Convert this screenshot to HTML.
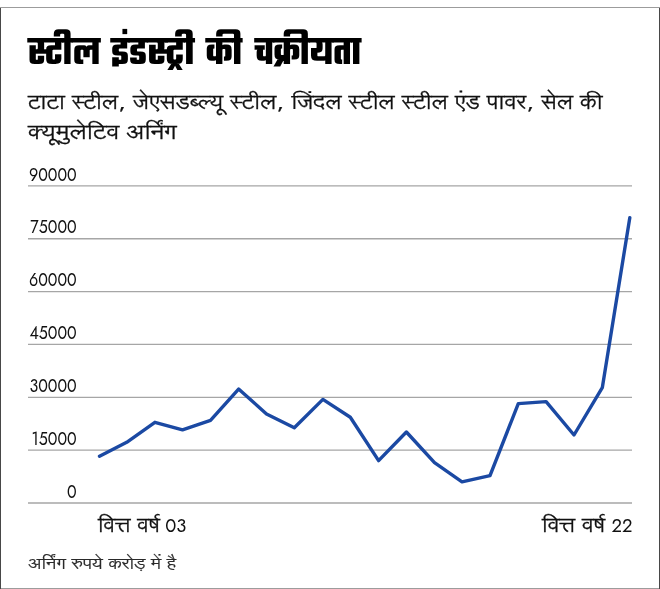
<!DOCTYPE html>
<html lang="hi">
<head>
<meta charset="utf-8">
<title>स्टील इंडस्ट्री की चक्रीयता</title>
<style>
html,body{margin:0;padding:0;background:#fff;}
body{width:660px;height:589px;position:relative;overflow:hidden;color:#1a1a1a;}
.frame{position:absolute;left:0;top:7px;width:660px;height:580px;border-top:1px solid #9c9c9c;border-bottom:1px solid #9c9c9c;}
.frame:before,.frame:after{content:"";position:absolute;top:0;height:581px;width:1px;background:#484848;}
.frame:before{left:0;}
.frame:after{right:0;}
.t{position:absolute;white-space:nowrap;margin:0;padding:0;}
.title{left:0;top:24.1px;width:400px;height:60px;font-family:"Teko","Khand","Noto Sans Devanagari","Lohit Devanagari","FreeSans","Liberation Sans",sans-serif;font-weight:700;font-size:41px;line-height:60px;color:#000;}
.title span{position:absolute;top:0;transform-origin:0 0;}
.sub{left:28px;font-family:"Lohit Devanagari","Noto Sans Devanagari","Poppins","FreeSans","Liberation Sans",sans-serif;font-weight:400;font-size:19.8px;line-height:30px;color:#111;transform-origin:0 0;transform:scaleX(1.15);word-spacing:-0.05px;-webkit-text-stroke:0.3px #111;}
.num{font-family:"Jost","Liberation Sans",sans-serif;font-weight:380;font-size:18.5px;line-height:20px;color:#111;}
.yl{left:20px;width:56.6px;text-align:right;transform-origin:100% 50%;transform:scaleX(0.865);}
.xl{height:30px;}
.xl .dv{position:absolute;left:0;top:0;font-family:"Lohit Devanagari","Noto Sans Devanagari","Poppins","FreeSans","Liberation Sans",sans-serif;font-weight:400;font-size:19.6px;line-height:30px;color:#111;transform-origin:0 0;transform:scaleX(1.1);-webkit-text-stroke:0.3px #111;}
.xl .n{position:absolute;left:67.8px;top:-0.6px;font-family:"Jost","Liberation Sans",sans-serif;font-weight:380;font-size:18.4px;line-height:30px;color:#111;transform-origin:0 0;transform:scaleX(1.0);}
.foot{left:27.8px;top:550px;font-family:"Lohit Devanagari","Noto Sans Devanagari","Poppins","FreeSans","Liberation Sans",sans-serif;font-weight:400;font-size:15px;line-height:30px;color:#2a2a2a;transform-origin:0 0;transform:scaleX(1.21);-webkit-text-stroke:0.2px #2a2a2a;}
svg{position:absolute;left:0;top:0;}
</style>
</head>
<body>
<div class="frame"></div>
<h1 class="t title"><span style="left:28.3px;transform:scaleX(0.91)">स्टील</span> <span style="left:111.3px;transform:scaleX(0.954)">इंडस्ट्री</span> <span style="left:206.3px;transform:scaleX(0.92)">की</span> <span style="left:254.7px;transform:scaleX(0.916)">चक्रीयता</span></h1>
<p class="t sub" style="top:88px">टाटा स्टील, जेएसडब्ल्यू स्टील, जिंदल स्टील स्टील एंड पावर, सेल की</p>
<p class="t sub" style="top:118.4px;transform:scaleX(1.225);word-spacing:-0.5px">क्यूमुलेटिव अर्निंग</p>
<svg width="660" height="589" viewBox="0 0 660 589">
<g stroke="#a6a6a6" stroke-width="1.3" fill="none">
<line x1="28" y1="185.9" x2="632" y2="185.9"/>
<line x1="28" y1="238.75" x2="632" y2="238.75"/>
<line x1="28" y1="291.6" x2="632" y2="291.6"/>
<line x1="28" y1="344.45" x2="632" y2="344.45"/>
<line x1="28" y1="397.3" x2="632" y2="397.3"/>
<line x1="28" y1="450.1" x2="632" y2="450.1"/>
<line x1="28" y1="503" x2="632" y2="503"/>
</g>
<polyline fill="none" stroke="#1b49a3" stroke-width="3.4" stroke-linejoin="round" stroke-linecap="round"
points="99.5,456.2 126.7,442.3 154.9,422.3 182.5,429.9 210.5,420.4 238.6,389.1 266.5,413.9 294.3,427.7 322.9,399.4 350.3,417.2 378.6,460.6 406.4,432 434.5,462.7 462,481.8 490,475.7 518.3,403.6 546.1,401.6 574,435 602.3,387.7 629.8,217.7"/>
</svg>
<div class="t num yl" style="top:164.60px">90000</div>
<div class="t num yl" style="top:217.45px">75000</div>
<div class="t num yl" style="top:270.30px">60000</div>
<div class="t num yl" style="top:323.15px">45000</div>
<div class="t num yl" style="top:376.00px">30000</div>
<div class="t num yl" style="top:428.80px">15000</div>
<div class="t num yl" style="top:481.70px">0</div>
<div class="t xl" style="left:97.5px;top:512px"><span class="dv">वित्त वर्ष </span><span class="n">03</span></div>
<div class="t xl" style="left:542px;top:512px"><span class="dv" style="transform:scaleX(1.12)">वित्त वर्ष </span><span class="n" style="left:69.5px">22</span></div>
<div class="t foot">अर्निंग रुपये करोड़ में है</div>
</body>
</html>
